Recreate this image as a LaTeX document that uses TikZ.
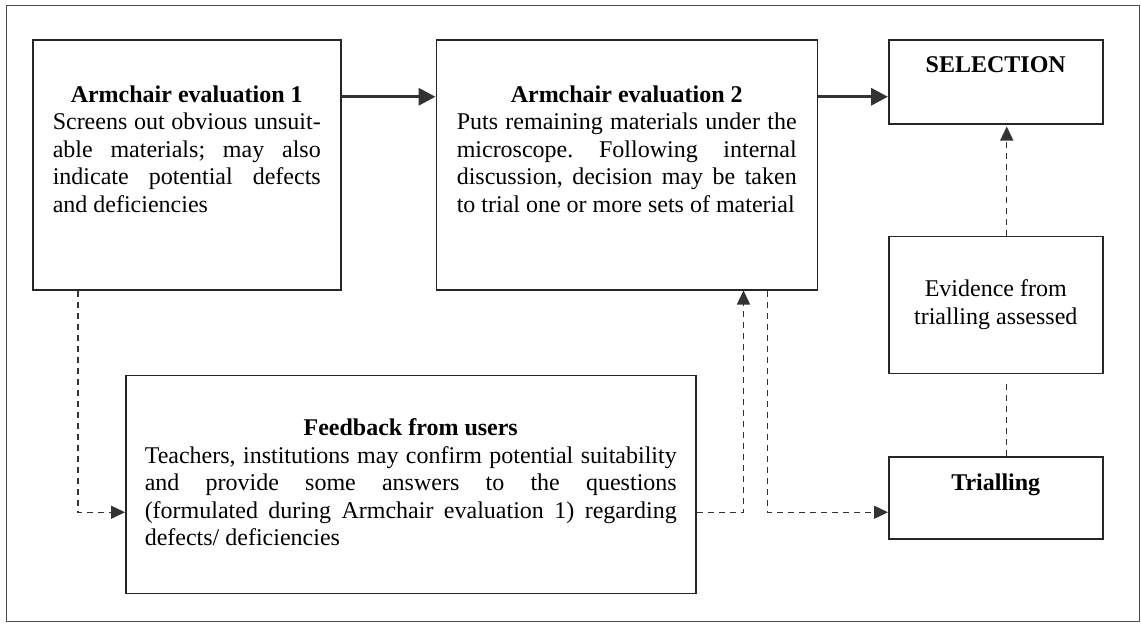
\documentclass[tikz,border=0pt]{standalone}
\usepackage{fontspec}
\setmainfont{Liberation Serif}
\usetikzlibrary{positioning, arrows.meta}
\tolerance=9999
\hyphenpenalty=10000
\hbadness=10000
\frenchspacing
\tikzset{
	font=\fontsize{12}{13.75}\selectfont, % Times-like text as in the sketch
	>={Triangle[length=7pt,width=6.5pt]}, % filled heads on the dashed links
	box/.style={draw=black!85, line width=0.75pt, minimum width=#1}, % every framed step
	boxtext/.style={inner sep=0pt, text width=#1, align=justify}, % justified text inside a step
	mainflow/.style={->, draw=black!80, line width=1.7pt, >={Triangle[length=8.5pt,width=8.5pt]}}, % the main route
	feed/.style={->, draw=black!80, line width=0.7pt, dash pattern=on 3pt off 2.5pt}, % side routes
	feedline/.style={feed, -}, % side route without a head
	frame/.style={draw=black!70, line width=0.5pt},
}

\begin{document}
\begin{tikzpicture}
	\useasboundingbox (0,0) rectangle (570.5pt,-311.5pt);
	\draw[frame] (3pt,-2.5pt) rectangle (569.5pt,-310.5pt);

	% First look at the materials
	\node[box=154pt, minimum height=125pt, anchor=north west] (Armchair1) at (16pt,-19.5pt) {};
	\node[boxtext=134pt, below=23pt of Armchair1.north] (Armchair1Text)
	{{\centering\textbf{Armchair evaluation 1}\par}Screens out obvious unsuit-\linebreak able materials; may also\linebreak indicate potential defects\linebreak and deficiencies};

	% Second, closer look
	\node[box=190.5pt, minimum height=125pt, right=47pt of Armchair1] (Armchair2) {};
	\node[boxtext=170pt, below=23pt of Armchair2.north] (Armchair2Text)
	{{\centering\textbf{Armchair evaluation 2}\par}Puts remaining materials under the\linebreak microscope. Following internal\linebreak discussion, decision may be taken\linebreak to trial one or more sets of material};

	%% The end of the route
	\node[box=107pt, minimum height=42pt, right=35pt of Armchair2.north east, anchor=north west] (Selection) {};
	\node[inner sep=0pt, below=8.5pt of Selection.north] (SelectionText) {\textbf{SELECTION}};

	\node[box=107pt, minimum height=68.5pt, below=55.5pt of Selection, align=center] (Evidence) {Evidence from\\trialling assessed};

	\node[box=107pt, minimum height=41pt, below=41pt of Evidence] (Trialling) {};
	\node[inner sep=0pt, below=8.8pt of Trialling.north] (TriallingText) {\textbf{Trialling}};

	%% Users report back
	\node[box=285pt, minimum height=109pt, below right=42pt and 46.5pt of Armchair1.south west] (Feedback) {};
	\node[boxtext=266pt, below=22pt of Feedback.north] (FeedbackText)
	{{\centering\textbf{Feedback from users}\par}Teachers, institutions may confirm potential suitability\linebreak and provide some answers to the questions\linebreak (formulated during Armchair evaluation 1) regarding\linebreak defects/ deficiencies};

	% main route
	\draw[mainflow] ([yshift=34pt]Armchair1.east) -- ([yshift=34pt]Armchair2.west);
	\draw[mainflow] ([yshift=34pt]Armchair2.east) -- ([yshift=34pt]Armchair2.east -| Selection.west);

	% side routes
	\draw[feed] ([xshift=23pt]Armchair1.south west) |- ([yshift=-14pt]Feedback.west);
	\draw[feed] ([yshift=-14pt]Feedback.east) -| ([xshift=154pt]Armchair2.south west);
	\draw[feed] ([xshift=166pt]Armchair2.south west) |- ([yshift=-14pt]Feedback.east -| Trialling.west);
	\draw[feedline] ([xshift=5.5pt]Trialling.north) -- ([xshift=5.5pt,yshift=-3pt]Evidence.south);
	\draw[feed, shorten >=1pt] ([xshift=5.5pt]Evidence.north) -- ([xshift=5.5pt]Selection.south);
\end{tikzpicture}
\end{document}
